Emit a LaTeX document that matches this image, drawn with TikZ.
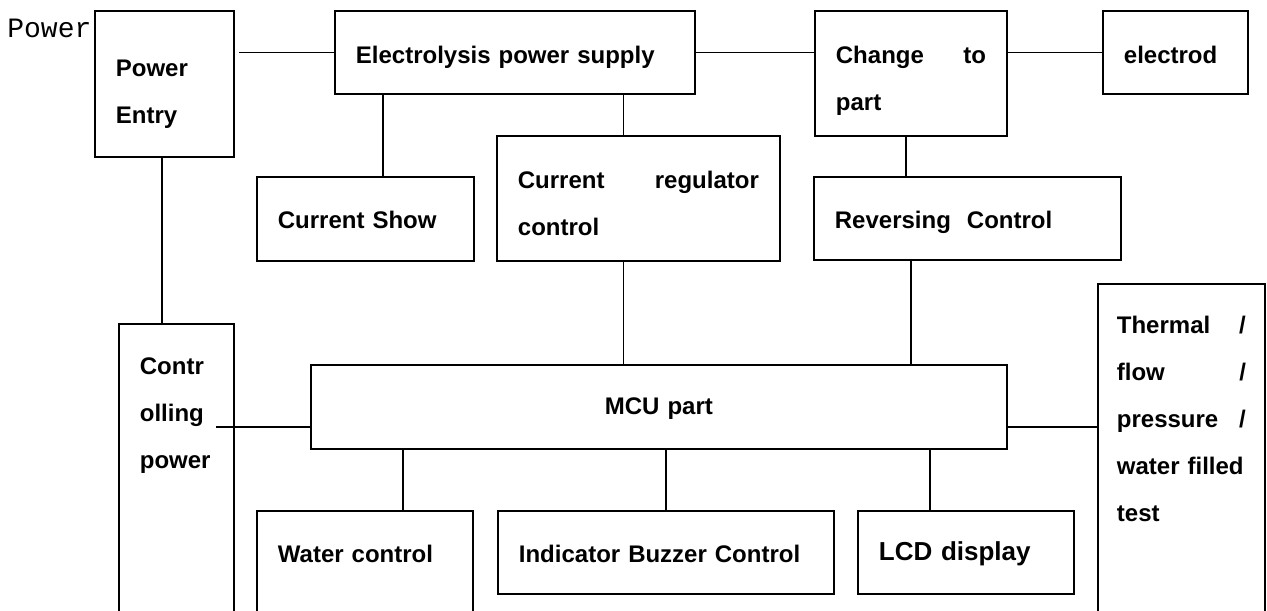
\documentclass[tikz,border=0pt]{standalone}
\usepackage{fontspec}
\setmainfont{Liberation Sans}
\newfontfamily\pwrfont{Liberation Mono}
\usepackage{tikz}
\usetikzlibrary{calc}

\newcommand\blkfont{\bfseries\fontsize{12}{23.5}\selectfont}

\begin{document}
\begin{tikzpicture}[x=0.5pt,y=-0.5pt,
  blk/.style={draw,line width=0.9pt,inner xsep=10.5pt,inner ysep=0pt,anchor=north west,align=left,font=\blkfont},
  wire/.style={line width=0.65pt}]
  \useasboundingbox (0,0) rectangle (1267,610);
  \clip (0,0) rectangle (1267,610);
  \node[anchor=base west,inner sep=0pt,font=\pwrfont\fontsize{14}{16}\selectfont] (pwr) at (7,38) {Power};
  \node[blk,text width=48.5pt,text height=33pt,text depth=40pt] (pe) at (94,10) {Power\\Entry};
  \node[blk,text width=159pt,text height=26.5pt,text depth=15pt] (eps) at (334,10) {Electrolysis power supply};
  \node[blk,text width=75pt,text height=26.5pt,text depth=36pt] (chg) at (814,10) {Change\hfill to\\part};
  \node[blk,text width=51.5pt,text height=26.5pt,text depth=15pt] (elc) at (1102,10) {electrod};
  \node[blk,text width=87.5pt,text height=26pt,text depth=16pt] (cs) at (256,176) {Current Show};
  \node[blk,text width=120.5pt,text height=26.5pt,text depth=36pt] (crc) at (496,135) {Current\hfill regulator\\control};
  \node[blk,text width=132.5pt,text height=26pt,text depth=15.5pt] (rev) at (813,176) {Reversing~ Control};
  \node[blk,text width=36.5pt,text height=25.5pt,text depth=133pt] (cp) at (118,323) {Contr\\olling\\power};
  \node[blk,align=center,text width=327pt,text height=25pt,text depth=17pt] (mcu) at (310,364) {MCU part};
  \node[blk,inner xsep=9.5pt,text width=64.5pt,text height=25pt,text depth=153.5pt] (thm) at (1097,283) {Thermal\hfill /\\flow\hfill /\\pressure\hfill /\\water filled\\test};
  \node[blk,text width=87pt,text height=26pt,text depth=39pt] (wat) at (256,510) {Water control};
  \node[blk,text width=147pt,text height=26pt,text depth=15.5pt] (ind) at (497,510) {Indicator Buzzer Control};
  \node[blk,font=\bfseries\fontsize{13}{16}\selectfont,text width=87pt,text height=25pt,text depth=16.5pt] (lcd) at (857,510) {LCD display};
  \draw[wire] (eps.west) -- ($(eps.west -| pe.east)+(2pt,0pt)$);
  \draw[wire] (eps.east) -- (eps.east -| chg.west);
  \draw[wire] (chg.east |- elc.west) -- (elc.west);
  \draw[wire] ($(cs.north)+(8.75pt,0pt)$) -- ($(cs.north |- eps.south)+(8.75pt,0pt)$);
  \draw[wire] ($(crc.north)+(-7.5pt,0pt)$) -- ($(crc.north |- eps.south)+(-7.5pt,0pt)$);
  \draw[wire] ($(crc.south)+(-7.5pt,0pt)$) -- ($(crc.south |- mcu.north)+(-7.5pt,0pt)$);
  \draw[wire] ($(chg.south)+(-2.5pt,0pt)$) -- ($(chg.south |- rev.north)+(-2.5pt,0pt)$);
  \draw[wire] ($(rev.south)+(-28.25pt,0pt)$) -- ($(rev.south |- mcu.north)+(-28.25pt,0pt)$);
  \draw[wire] ($(pe.south)+(-1.25pt,0pt)$) -- ($(pe.south |- cp.north)+(-1.25pt,0pt)$);
  \draw[wire] ($(mcu.west)+(0pt,-10pt)$) -- ($(mcu.west -| cp.east)+(-9.5pt,-10pt)$);
  \draw[wire] ($(mcu.east)+(0pt,-10pt)$) -- ($(mcu.east -| thm.west)+(0pt,-10pt)$);
  \draw[wire] ($(wat.north)+(19pt,0pt)$) -- ($(wat.north |- mcu.south)+(19pt,0pt)$);
  \draw[wire] (ind.north) -- (ind.north |- mcu.south);
  \draw[wire] ($(lcd.north)+(-18pt,0pt)$) -- ($(lcd.north |- mcu.south)+(-18pt,0pt)$);
\end{tikzpicture}
\end{document}
